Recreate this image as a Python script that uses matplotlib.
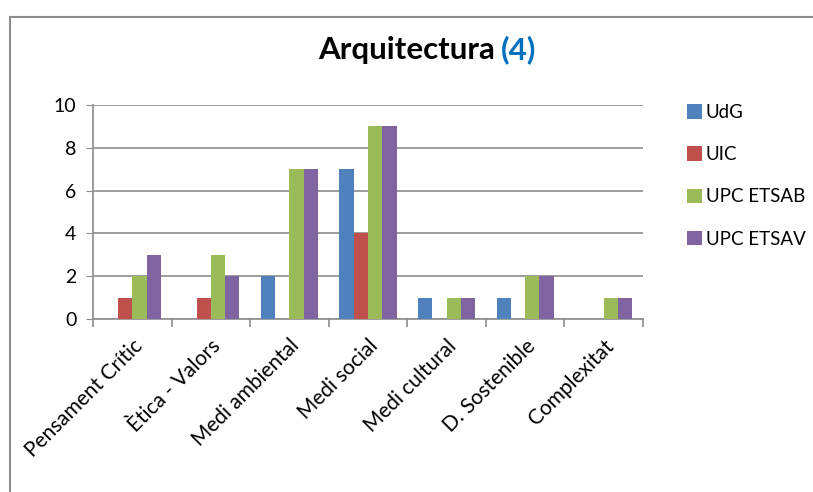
import numpy as np
import matplotlib.pyplot as plt
from matplotlib.patches import Rectangle

# data
categories = ["Pensament Crític", "Ètica - Valors", "Medi ambiental", "Medi social",
              "Medi cultural", "D. Sostenible", "Complexitat"]
series_names = ["UdG", "UIC", "UPC ETSAB", "UPC ETSAV"]
udg = [0, 0, 2, 7, 1, 1, 0]
uic = [1, 1, 0, 4, 0, 0, 0]
etsab = [2, 3, 7, 9, 1, 2, 1]
etsav = [3, 2, 7, 9, 1, 2, 1]
colors = ["#4F81BD", "#C0504D", "#9BBB59", "#8064A2"]

plt.rcParams['font.family'] = ['Lato', 'DejaVu Sans']

fig = plt.figure(figsize=(8.13, 4.92), dpi=100)
ax = fig.add_axes([93/813, 1-319/492, 550/813, 214/492])

x = np.arange(len(categories))
w = 0.182
allvals = [udg, uic, etsab, etsav]
for i, vals in enumerate(allvals):
    ax.bar(x + (i - 1.5)*w, vals, w, color=colors[i], label=series_names[i], zorder=3)

ax.set_xlim(-0.5, len(categories) - 0.5)
ax.set_ylim(0, 10)
ax.set_yticks(range(0, 11, 2))
ax.yaxis.grid(True, color="#8c8c8c", linewidth=1.2, zorder=0)
for s in ["top", "right"]:
    ax.spines[s].set_visible(False)
for s in ["left", "bottom"]:
    ax.spines[s].set_color("#8c8c8c")
    ax.spines[s].set_linewidth(1.2)
ax.tick_params(axis="y", direction="out", length=5, color="#8c8c8c", labelsize=14, pad=7)

ax.set_xticks(x)
ax.set_xticklabels(categories, rotation=45, ha="right", rotation_mode="anchor", fontsize=15)
ax.tick_params(axis="x", which="major", length=0, pad=12)
ax.set_xticks(np.arange(-0.5, len(categories), 1.0), minor=True)
ax.tick_params(axis="x", which="minor", direction="out", length=6, color="#8c8c8c", width=1.2)

# title with blue number
fig.text(0.609, 1-50/492, "Arquitectura", fontsize=22.5, fontweight="bold", ha="right", va="center")
fig.text(0.616, 1-50/492, "(4)", fontsize=22.5, fontweight="bold", color="#0070C0", ha="left", va="center")

ax.legend(loc="upper left", bbox_to_anchor=(670/813, 1-87/492), bbox_transform=fig.transFigure,
          frameon=False, fontsize=13.5, handlelength=0.8, handleheight=0.8,
          handletextpad=0.2, labelspacing=1.35)

# outer chart frame (cropped on right and bottom)
fig.patches.append(Rectangle((10/813, -0.1), 1.2, 1 - 17/492 + 0.1, transform=fig.transFigure,
                             fill=False, edgecolor="#8c8c8c", linewidth=1.5))

fig.savefig("out.png", dpi=100)
